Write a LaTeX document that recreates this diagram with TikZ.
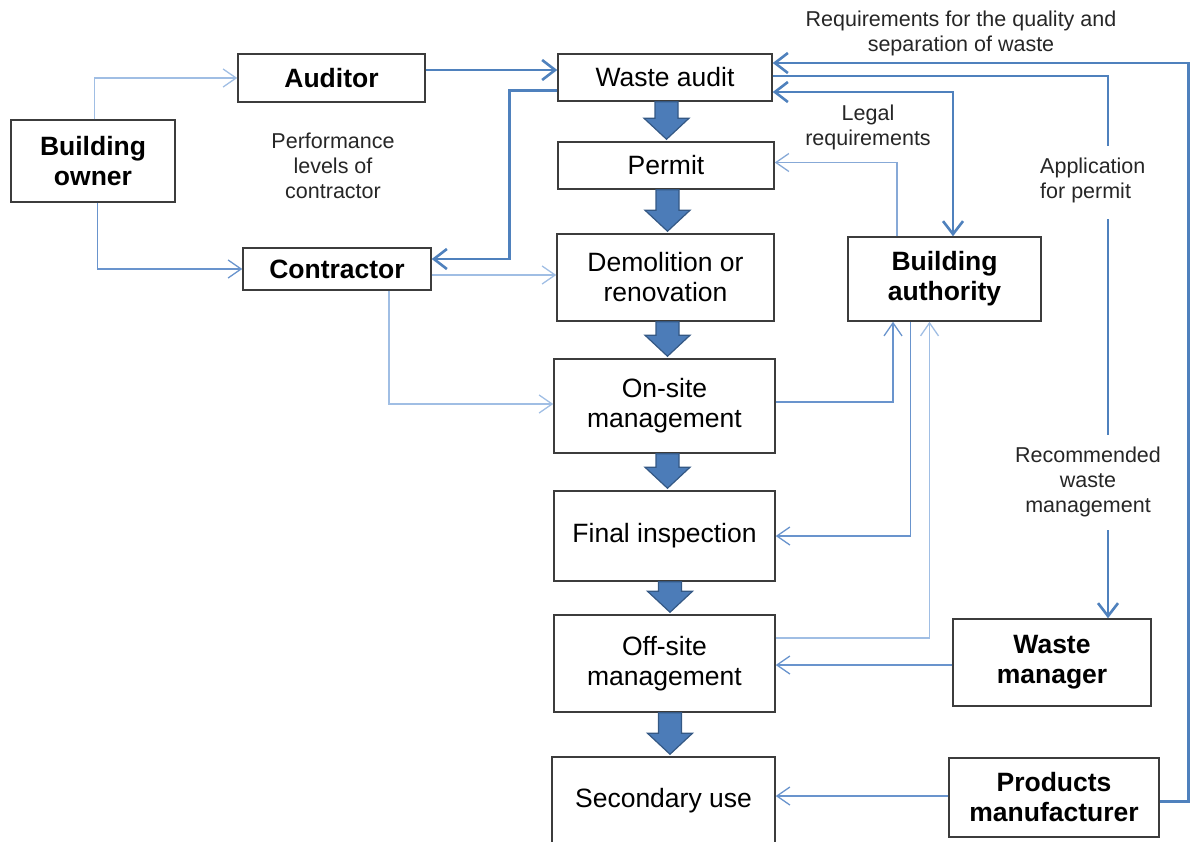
\documentclass[tikz,border=0pt]{standalone}
\usepackage{fontspec}
\setmainfont{Liberation Sans}
\usetikzlibrary{arrows.meta,calc}
\definecolor{boxline}{RGB}{60,60,60}
\definecolor{bluethick}{RGB}{79,129,189}
\definecolor{bluemid}{RGB}{105,148,205}
\definecolor{bluelite}{RGB}{160,190,228}
\definecolor{arrowfill}{RGB}{76,124,184}
\definecolor{arrowedge}{RGB}{52,88,132}
\newcommand\blockarr[3]{%
  \path[blockarrow] let \p1=(#1.south), \p2=(#2.north) in
   (\x1+#3pt-11.5pt,\y1) -- (\x1+#3pt+11.5pt,\y1) -- (\x1+#3pt+11.5pt,\y2+23pt)
   -- (\x1+#3pt+22.5pt,\y2+23pt) -- (\x1+#3pt,\y2+2pt) -- (\x1+#3pt-22.5pt,\y2+23pt)
   -- (\x1+#3pt-11.5pt,\y2+23pt) -- cycle;}
\begin{document}
\begin{tikzpicture}[x=1pt,y=-1pt,
  box/.style={draw=boxline,line width=1.5pt,inner sep=0pt,align=center,
    font=\fontsize{26.5}{30}\selectfont},
  bbox/.style={box,font=\fontsize{26.5}{30}\selectfont\bfseries},
  lbl/.style={align=center,inner sep=0pt,font=\fontsize{21.5}{25}\selectfont,text=black!85},
  thk/.style={draw=bluethick,line width=2.6pt},
  thkarr/.style={thk,-{Straight Barb[length=13pt,width=20pt]}},
  thkboth/.style={thk,{Straight Barb[length=13pt,width=20pt]}-{Straight Barb[length=13pt,width=20pt]}},
  midarr/.style={draw=bluemid,line width=1.3pt,-{Straight Barb[length=13pt,width=18pt]}},
  litearr/.style={draw=bluelite,line width=1.3pt,-{Straight Barb[length=13pt,width=18pt]}},
  blockarrow/.style={fill=arrowfill,draw=arrowedge,line width=1.2pt,line join=miter}
]
\useasboundingbox (0,0) rectangle (1190,841);

% boxes
\node[bbox,minimum width=164,minimum height=82] (owner) at (93,161) {Building\\owner};
\node[bbox,minimum width=187,minimum height=48] (auditor) at (331.5,78) {Auditor};
\node[bbox,minimum width=188,minimum height=42] (contractor) at (337,269) {Contractor};
\node[box,minimum width=214,minimum height=47] (waste) at (665,77.5) {Waste audit};
\node[box,minimum width=216,minimum height=47] (permit) at (666,165.5) {Permit};
\node[box,minimum width=217,minimum height=87] (demol) at (665.5,277.5) {Demolition or\\renovation};
\node[box,minimum width=221,minimum height=94] (onsite) at (664.5,406) {On-site\\management};
\node[box,minimum width=221,minimum height=90] (final) at (664.5,536) {Final inspection};
\node[box,minimum width=221,minimum height=97] (offsite) at (664.5,663.5) {Off-site\\management};
\node[box,minimum width=223,minimum height=88] (secondary) at (663.5,801) {Secondary use};
\node[bbox,minimum width=193,minimum height=84] (bauth) at (944.5,279) {Building\\authority};
\node[bbox,minimum width=198,minimum height=87] (wmanager) at (1052,662.5) {Waste\\manager};
\node[bbox,minimum width=210,minimum height=79] (manuf) at (1054,797.5) {Products\\manufacturer};

% labels
\node[lbl] (perf) at (333,166) {Performance\\levels of\\contractor};
\node[lbl] (req) at (961,33.5) {Requirements for the quality and\\separation of waste};
\node[lbl] (legal) at (868,127.5) {Legal\\requirements};
\node[lbl,align=left,anchor=west] (app) at (1040,180.5) {Application\\for permit};
\node[lbl] (rec) at (1088,482) {Recommended\\waste\\management};

% block arrows
\blockarr{waste}{permit}{1.5}
\blockarr{permit}{demol}{1.5}
\blockarr{demol}{onsite}{2}
\blockarr{onsite}{final}{3}
\blockarr{final}{offsite}{5.5}
\blockarr{offsite}{secondary}{5.5}

% owner connections
\draw[litearr] ([xshift=84pt]owner.north west) |- (auditor.west);
\draw[midarr] ([xshift=87pt]owner.south west) |- (contractor.west);

% auditor -> waste audit
\coordinate (a1) at ([yshift=8pt]auditor.east);
\draw[thkarr] (a1) -- (a1 -| waste.west);

% waste audit -> contractor
\coordinate (w1) at ([yshift=-13pt]waste.west);
\coordinate (c0) at ([yshift=10pt]contractor.east);
\draw[thkarr] (w1) -- ++(-48,0) |- (c0);

% contractor -> demolition, on-site
\coordinate (c1) at ([yshift=-6pt]contractor.east);
\draw[litearr] (c1) -- (c1 -| demol.west);
\draw[litearr] ([xshift=52pt]contractor.south) |- ([yshift=2pt]onsite.west);

% manufacturer -> waste audit (requirements)
\coordinate (m1) at ([yshift=-4pt]manuf.east);
\coordinate (w2) at ([yshift=14.5pt]waste.east);
\draw[thkarr] (m1) -- ++(29,0) |- (w2);

% waste audit -> waste manager (application / recommended)
\coordinate (w3) at ([yshift=1.5pt]waste.east);
\coordinate (g1) at (1108,146);
\coordinate (g2) at (1108,219);
\coordinate (g3) at (1108,435);
\coordinate (g4) at (1108,530);
\coordinate (wm) at ([xshift=56pt]wmanager.north);
\draw[thk,line join=miter] (w3) -| (g1);
\draw[thk] (g2) -- (g3);
\draw[thkarr] (g4) -- (wm);

% waste audit <-> building authority
\coordinate (w4) at ([yshift=-14.5pt]waste.east);
\coordinate (b1) at ([xshift=8.5pt]bauth.north);
\draw[thkboth] (w4) -| (b1);

% building authority -> permit
\draw[litearr,draw=bluemid!80] ([xshift=-47.5pt]bauth.north) |- ([yshift=3pt]permit.east);

% on-site -> building authority
\draw[midarr] ([yshift=4pt]onsite.east) -| ([xshift=-51.5pt]bauth.south);
% building authority -> final inspection
\draw[midarr] ([xshift=-34pt]bauth.south) |- (final.east);
% off-site -> building authority
\draw[litearr] ([yshift=25.5pt]offsite.east) -| ([xshift=-15pt]bauth.south);
% waste manager -> off-site
\coordinate (wm1) at ([yshift=-2.5pt]wmanager.west);
\draw[midarr] (wm1) -- (wm1 -| offsite.east);
% manufacturer -> secondary use
\coordinate (m2) at ([yshift=1.5pt]manuf.west);
\draw[midarr] (m2) -- (m2 -| secondary.east);
\end{tikzpicture}
\end{document}
